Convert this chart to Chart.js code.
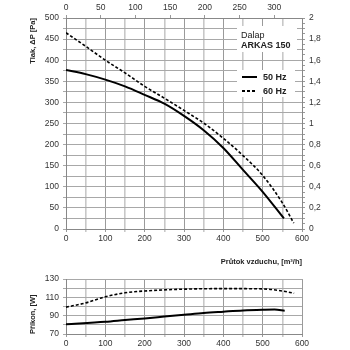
<!DOCTYPE html>
<html>
<head>
<meta charset="utf-8">
<script src="https://cdn.jsdelivr.net/npm/chart.js@4"></script>
<style>
  body { margin: 0; background: #fff; font-family: 'Liberation Sans', Arial, sans-serif; }
  #wrap { position: relative; width: 350px; height: 350px; overflow: hidden; }
  .box { position: absolute; background: #fff; }
  .t { position: absolute; font-size: 9px; color: #222; line-height: 10px; white-space: nowrap; }
  .b { font-weight: bold; }
  .solid { position: absolute; height: 2px; background: #000; }
  .dash { position: absolute; height: 2px; background: repeating-linear-gradient(to right, #000 0 3px, transparent 3px 5px); }
</style>
</head>
<body>
<div id="wrap">
  <div style="position:absolute;left:0;top:0;width:350px;height:270px"><canvas id="pressChart" width="350" height="270"></canvas></div>
  <div style="position:absolute;left:0;top:270px;width:350px;height:80px"><canvas id="powerChart" width="350" height="80"></canvas></div>

  <div class="box" style="left:237px;top:26px;width:60px;height:26px"></div>
  <div class="t" style="left:241px;top:30px">Dalap</div>
  <div class="t b" style="left:241px;top:40px">ARKAS 150</div>

  <div class="box" style="left:237px;top:70px;width:58px;height:27px"></div>
  <div class="solid" style="left:242px;top:76px;width:15px"></div>
  <div class="t b" style="left:263px;top:72px">50 Hz</div>
  <div class="dash" style="left:242px;top:90px;width:15px"></div>
  <div class="t b" style="left:263px;top:86px">60 Hz</div>
</div>
<script>
// prutok [m3/h] a tlak [Pa]
const flow50 = [0, 50, 100, 150, 200, 250, 300, 350, 400, 450, 500, 554];
const press50 = [377, 367, 354, 338, 318, 297, 268, 234, 192, 140, 88, 25];
const flow60 = [0, 50, 100, 150, 200, 250, 300, 350, 400, 450, 500, 550, 579];
const press60 = [465, 433, 400, 370, 338, 310, 281, 251, 215, 174, 127, 62, 14];

// prikon [W]
const pFlow50 = [0, 100, 150, 200, 250, 300, 350, 400, 450, 500, 530, 556];
const power50 = [80.7, 83.3, 85.2, 87, 89, 91, 93, 94.4, 95.7, 96.5, 96.8, 95.5];
const pFlow60 = [0, 50, 100, 150, 200, 300, 400, 500, 550, 580];
const power60 = [99.3, 104, 110.7, 115, 117, 119, 119.6, 119.3, 117, 114.5];

const FONT = "'Liberation Sans', Arial, sans-serif";
const tickFont = { family: FONT, size: 8.5 };
const titleFont = { family: FONT, size: 7.5, weight: 'bold' };

const pts = (xs, ys) => xs.map((x, i) => ({ x: x, y: ys[i] }));

const lineSet = (data, dashed) => ({
  data: data,
  borderColor: '#000',
  borderWidth: dashed ? 1.6 : 2,
  borderDash: dashed ? [3, 2] : [],
  pointRadius: 0,
  fill: false,
  cubicInterpolationMode: 'monotone',
});

const xGrid = {
  color: ctx => (ctx.tick && ctx.tick.value % 100 === 0) ? '#9a9a9a' : '#c8c8c8',
  lineWidth: ctx => (ctx.tick && ctx.tick.value % 100 === 0) ? 1 : 1.6,
  tickLength: 3,
};

new Chart(document.getElementById('pressChart'), {
  type: 'line',
  data: { datasets: [lineSet(pts(flow50, press50), false), lineSet(pts(flow60, press60), true)] },
  options: {
    responsive: false,
    animation: false,
    layout: { padding: { left: 24, top: 0, right: 0, bottom: 0 } },
    plugins: { legend: { display: false }, tooltip: { enabled: false } },
    scales: {
      x: {
        type: 'linear', position: 'bottom', min: 0, max: 600,
        afterFit: s => { s.height = 41; },
        ticks: { stepSize: 50, autoSkip: false, maxRotation: 0, padding: 2, color: '#333', font: tickFont,
          callback: v => v % 100 === 0 ? v : '' },
        grid: xGrid,
        border: { color: '#888' },
        title: { display: true, text: 'Průtok vzduchu, [m³/h]', align: 'end', color: '#222', font: titleFont, padding: { top: 4, bottom: 4 } },
      },
      x2: {
        type: 'linear', position: 'top', min: 0, max: 340,
        afterFit: s => { s.height = 18; },
        ticks: { stepSize: 50, includeBounds: false, autoSkip: false, maxRotation: 0, padding: 2, color: '#333', font: tickFont },
        grid: { drawOnChartArea: false, tickLength: 3, color: '#999' },
        border: { color: '#888' },
      },
      y: {
        type: 'linear', position: 'left', min: 0, max: 500,
        afterFit: s => { s.width = 42; },
        ticks: { stepSize: 25, autoSkip: false, padding: 4, color: '#333', font: tickFont,
          callback: v => v % 50 === 0 ? v : '' },
        grid: { color: '#a8a8a8', lineWidth: 1, tickLength: 3 },
        border: { color: '#888' },
        title: { display: true, text: 'Tlak, \u0394P [Pa]', align: 'end', color: '#222', font: titleFont, padding: { top: 4, bottom: 4 } },
      },
      y2: {
        type: 'linear', position: 'right', min: 0, max: 2,
        afterFit: s => { s.width = 48; },
        ticks: { stepSize: 0.05, autoSkip: false, padding: 4, color: '#333', font: tickFont,
          callback: v => {
            const r = Math.round(v * 100);
            return r % 20 === 0 ? String(r / 100).replace('.', ',') : '';
          } },
        grid: { drawOnChartArea: false, tickLength: 3, color: '#999' },
        border: { color: '#888' },
      },
    },
  },
});

new Chart(document.getElementById('powerChart'), {
  type: 'line',
  data: { datasets: [lineSet(pts(pFlow50, power50), false), lineSet(pts(pFlow60, power60), true)] },
  options: {
    responsive: false,
    animation: false,
    layout: { padding: { left: 24, top: 9, right: 48, bottom: 0 } },
    plugins: { legend: { display: false }, tooltip: { enabled: false } },
    scales: {
      x: {
        type: 'linear', position: 'bottom', min: 0, max: 600,
        afterFit: s => { s.height = 16; },
        ticks: { stepSize: 50, autoSkip: false, maxRotation: 0, padding: 2, color: '#333', font: tickFont,
          callback: v => v % 100 === 0 ? v : '' },
        grid: xGrid,
        border: { color: '#888' },
      },
      y: {
        type: 'linear', position: 'left', min: 70, max: 130,
        afterFit: s => { s.width = 42; },
        ticks: { stepSize: 10, autoSkip: false, padding: 4, color: '#333', font: tickFont,
          callback: v => (v - 70) % 20 === 0 ? v : '' },
        grid: { color: '#a8a8a8', lineWidth: 1, tickLength: 3 },
        border: { color: '#888' },
        title: { display: true, text: 'Příkon, [W]', align: 'start', color: '#222', font: titleFont, padding: { top: 4, bottom: 4 } },
      },
    },
  },
});
</script>
</body>
</html>
